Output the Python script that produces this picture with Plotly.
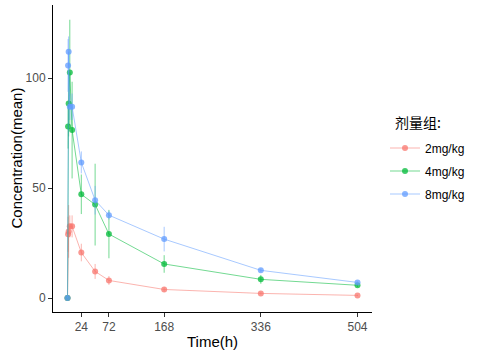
import plotly.graph_objects as go

time_h = [0, 1, 2, 4, 8, 24, 48, 72, 168, 336, 504]
groups = ["2mg/kg", "4mg/kg", "8mg/kg"]
conc_2 = [0, 29.0, 30.3, 32.6, 32.6, 20.7, 12.1, 8.0, 3.9, 2.1, 1.2]
sd_2 = [0, 8, 12, 5, 5, 4, 3.4, 2, 1, 0.5, 0.3]
conc_4 = [0, 78.0, 88.5, 102.6, 76.4, 47.2, 42.5, 29.1, 15.5, 8.5, 5.8]
sd_4 = [0, 10, 15, 24, 22, 9, 18.6, 11, 4, 2, 0.8]
conc_8 = [0, 105.8, 112.0, 87.0, 87.0, 61.7, 44.5, 37.7, 26.8, 12.6, 7.1]
sd_8 = [0, 12, 7, 6, 6, 5, 6.5, 2, 5.6, 0.8, 0.5]

x_ticks = [24, 72, 168, 336, 504]
y_ticks = [0, 50, 100]

rgb = ["248,118,109", "0,186,56", "97,156,255"]
series = [conc_2, conc_4, conc_8]
sds = [sd_2, sd_4, sd_8]

fig = go.Figure()
for name, vals, sd, c in zip(groups, series, sds, rgb):
    fig.add_trace(go.Scatter(
        x=time_h, y=vals, name=name, legendgroup=name, mode="lines+markers",
        line=dict(color=f"rgba({c},0.55)", width=1),
        marker=dict(color=f"rgba({c},0.75)", size=6, line=dict(width=0)),
        error_y=dict(type="data", array=sd, visible=True, width=0,
                     thickness=1, color=f"rgba({c},0.55)"),
    ))

ph = 357 - 5 - 45
pw = 480 - 53 - 108
fig.update_layout(
    width=480, height=357,
    margin=dict(l=53, r=108, t=5, b=45, autoexpand=False),
    paper_bgcolor="white", plot_bgcolor="white",
    font=dict(family="Liberation Sans, Arial, sans-serif", size=12, color="black"),
    legend=dict(
        x=(385 - 53) / pw, xanchor="left", y=(312 - 171) / ph, yanchor="middle",
        font=dict(size=12, color="black"), tracegroupgap=4,
        itemwidth=30,
    ),
    showlegend=True,
    annotations=[
        dict(text="Time(h)", x=0.5, xref="paper", y=-(341 - 312) / ph, yref="paper",
             xanchor="center", yanchor="middle", showarrow=False,
             font=dict(size=15, color="black")),
        dict(text="Concentration(mean)", x=-(53 - 16) / pw, xref="paper",
             y=0.5, yref="paper", xanchor="center", yanchor="middle", textangle=-90,
             showarrow=False, font=dict(size=15, color="black")),
        dict(text="剂量组:", x=(393 - 53) / pw, xref="paper", y=(312 - 122) / ph,
             yref="paper", xanchor="left", yanchor="middle", showarrow=False,
             font=dict(family="Noto Sans CJK SC", size=14, color="black")),
    ],
)
fig.update_xaxes(
    range=[-25.2, 529.2], tickvals=x_ticks, ticktext=[str(v) for v in x_ticks],
    showline=True, linecolor="black", linewidth=1, showgrid=False, zeroline=False,
    ticks="outside", ticklen=4, tickcolor="#333333", automargin=False,
    tickfont=dict(size=12, color="#4D4D4D"),
)
fig.update_yaxes(
    range=[-6.35, 133.3], tickvals=y_ticks,
    showline=True, linecolor="black", linewidth=1, showgrid=False, zeroline=False,
    ticks="outside", ticklen=4, tickcolor="#333333", automargin=False,
    tickfont=dict(size=12, color="#4D4D4D"),
)
fig.write_html("out.html", config={"displayModeBar": False},
               post_script="document.body.style.margin='0';")
